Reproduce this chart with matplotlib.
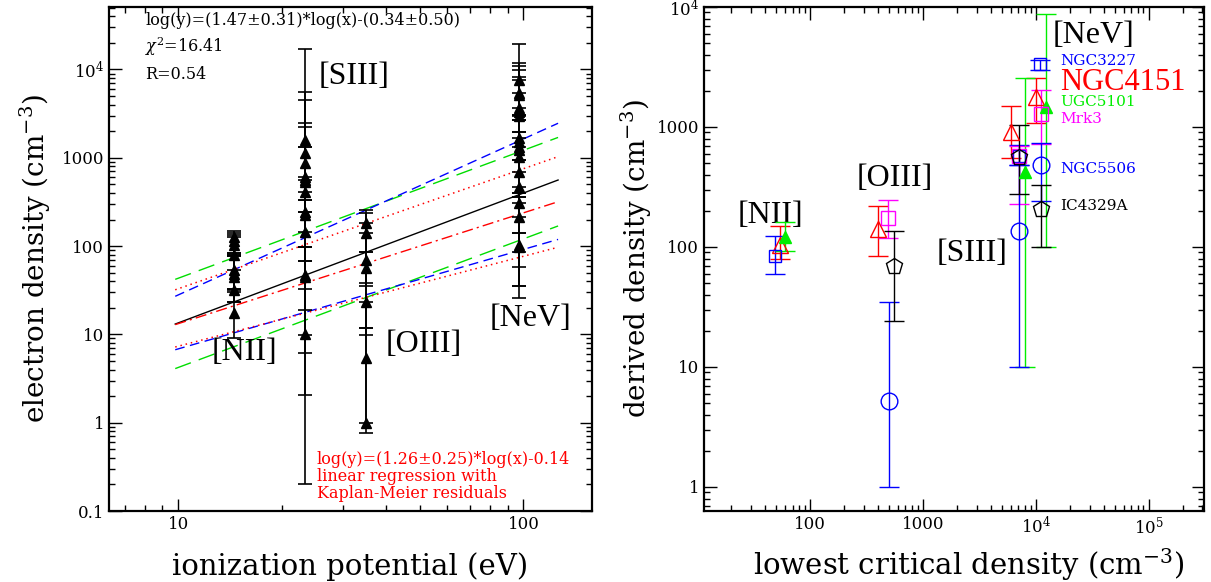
import matplotlib.pyplot as plt
import numpy as np
from matplotlib.ticker import FixedLocator, NullFormatter, FixedFormatter

plt.rcParams['font.family'] = 'DejaVu Serif'
plt.rcParams['mathtext.fontset'] = 'dejavuserif'

# ---- left panel: electron density vs ionization potential ----
ip_nii, ip_siii, ip_oiii, ip_nev = 14.5, 23.3, 35.1, 97.1

ne_nii = [126, 115, 103, 79, 54, 48, 45, 32, 17.3]
lo_nii = [84, 77, 80, 33, 30, 23.4, 33, 23.4, 9.0]
hi_nii = [148, 140, 134, 126, 84, 77, 79, 54, 32]

ne_siii = [1590, 1125, 870, 611, 560, 536, 413, 245, 225, 146, 47, 45, 10.1]
lo_siii = [333, 98, 333, 98, 67, 245, 33, 18.9, 67, 9.8, 6.1, 2.06, 0.2]
hi_siii = [16900, 5600, 4520, 2460, 2250, 1335, 1335, 611, 560, 413, 245, 146, 98]

ne_oiii = [181, 140, 70, 56, 23.5, 5.4, 0.98]
lo_oiii = [86, 38, 35, 11.7, 9.8, 0.98, 0.76]
hi_oiii = [256, 235, 181, 140, 86, 23.5, 11.7]

ne_nev = [7600, 5370, 5140, 3640, 3330, 2970, 1660, 1520, 1335, 1225, 1030,
          697, 471, 305, 215, 103, 98]
lo_nev = [3050, 2680, 1980, 944, 1335, 396, 363, 471, 140, 305, 215,
          86, 140, 58, 35, 25.6, 35]
hi_nev = [19400, 11900, 10960, 9860, 8280, 7600, 5370, 3640, 3050, 2970, 2680,
          1980, 1660, 944, 697, 396, 363]

# regression line and confidence bands (end values)
fit_x = [9.8, 126]
fit_black = [13.1, 560]
fit_km = [12.9, 318]
band_green_hi = [42, 1700]
band_green_lo = [4.1, 169]
band_blue_hi = [27, 2460]
band_blue_lo = [6.7, 119]
band_red_hi = [32, 1030]
band_red_lo = [7.2, 97]

# ---- right panel: derived density vs lowest critical density ----
galaxies = {
    'NGC4151': dict(x=[54, 400, 6040, 10050], y=[103, 142, 909, 1778],
                    lo=[80, 84, 552, 1086], hi=[149, 220, 1486, 2560]),
    'NGC3227': dict(x=[49.4, 7100, 10900], y=[84, 573, 3330],
                    lo=[60, 479, 3010], hi=[124, 713, 3640]),
    'UGC5101': dict(x=[60, 8050, 12330], y=[121, 422, 1468],
                    lo=[92, 10, 100], hi=[160, 2578, 8690]),
    'Mrk3': dict(x=[495, 7100, 11160], y=[175, 570, 1292],
                 lo=[119, 230, 726], hi=[245, 700, 2046]),
    'NGC5506': dict(x=[503, 7120, 11160], y=[5.2, 136, 485],
                    lo=[1.0, 10, 242], hi=[35, 480, 740]),
    'IC4329A': dict(x=[551, 7120, 11160], y=[70, 562, 208],
                    lo=[24, 278, 100], hi=[136, 1045, 330]),
}
styles = {
    'NGC4151': ('^', 'red', 'none', 11),
    'NGC3227': ('s', 'blue', 'none', 9),
    'UGC5101': ('^', '#00ee00', '#00ee00', 9),
    'Mrk3': ('s', 'magenta', 'none', 10),
    'NGC5506': ('o', 'blue', 'none', 12),
    'IC4329A': ('p', 'black', 'none', 12),
}


def style_axis(ax):
    ax.tick_params(which='both', direction='in', top=True, right=True,
                   labelsize=12)
    ax.tick_params(which='major', length=9, width=1)
    ax.tick_params(which='minor', length=4.5, width=1)
    for s in ax.spines.values():
        s.set_linewidth(1.6)


def sci(v):
    if v >= 1e4:
        return r'$10^{%d}$' % int(round(np.log10(v)))
    return ('%g' % v)


fig = plt.figure(figsize=(12.11, 5.82), dpi=100)
ax1 = fig.add_axes([109 / 1211, 71 / 582, 483 / 1211, 504 / 582])
ax2 = fig.add_axes([704 / 1211, 71 / 582, 500 / 1211, 504 / 582])

# left panel
ax1.plot(fit_x, band_green_hi, color='#00dd00', lw=1, dashes=(12, 6))
ax1.plot(fit_x, band_green_lo, color='#00dd00', lw=1, dashes=(12, 6))
ax1.plot(fit_x, band_blue_hi, color='blue', lw=1, dashes=(7, 4))
ax1.plot(fit_x, band_blue_lo, color='blue', lw=1, dashes=(7, 4))
ax1.plot(fit_x, band_red_hi, color='red', lw=1.1, dashes=(1, 2.5))
ax1.plot(fit_x, band_red_lo, color='red', lw=1.1, dashes=(1, 2.5))
ax1.plot(fit_x, fit_black, color='black', lw=1)
ax1.plot(fit_x, fit_km, color='red', lw=1, dashes=(8, 3, 1.5, 3))

for ip, val, lo, hi in [(ip_nii, ne_nii, lo_nii, hi_nii),
                        (ip_siii, ne_siii, lo_siii, hi_siii),
                        (ip_oiii, ne_oiii, lo_oiii, hi_oiii),
                        (ip_nev, ne_nev, lo_nev, hi_nev)]:
    val = np.array(val)
    err = [val - np.array(lo), np.array(hi) - val]
    ax1.errorbar([ip] * len(val), val, yerr=err, fmt='^', color='black',
                 ms=6.5, capsize=5, elinewidth=1.2, capthick=1.2, zorder=5)

ax1.set_xscale('log')
ax1.set_yscale('log')
ax1.set_xlim(6.3, 158)
ax1.set_ylim(0.1, 5.1e4)
ax1.xaxis.set_major_locator(FixedLocator([10, 100]))
ax1.xaxis.set_major_formatter(FixedFormatter(['10', '100']))
ax1.xaxis.set_minor_locator(FixedLocator([7, 8, 9, 20, 30, 40, 50, 60, 70, 80, 90]))
ax1.xaxis.set_minor_formatter(NullFormatter())
yt1 = [0.1, 1, 10, 100, 1000, 1e4]
ax1.yaxis.set_major_locator(FixedLocator(yt1))
ax1.yaxis.set_major_formatter(FixedFormatter([sci(v) for v in yt1]))
ax1.yaxis.set_minor_locator(FixedLocator(
    [m * 10.0 ** e for e in range(-1, 5) for m in range(2, 10)]))
ax1.yaxis.set_minor_formatter(NullFormatter())
style_axis(ax1)
ax1.set_xlabel('ionization potential (eV)', fontsize=21, va='baseline')
ax1.xaxis.set_label_coords(0.5, -0.127)
ax1.set_ylabel('electron density (cm$^{-3}$)', fontsize=20, labelpad=6)

lab_font = dict(family='Liberation Serif', fontsize=23)
ax1.text(12.5, 6.3, '[NII]', va='center', **lab_font)
ax1.text(25.5, 8220, '[SIII]', va='center', **lab_font)
ax1.text(39.8, 7.6, '[OIII]', va='center', **lab_font)
ax1.text(80, 15.3, '[NeV]', va='center', **lab_font)

ax1.text(0.075, 0.974, 'log(y)=(1.47±0.31)*log(x)-(0.34±0.50)',
         transform=ax1.transAxes, fontsize=11.5, va='center')
ax1.text(0.075, 0.921, r'$\chi^2$=16.41', transform=ax1.transAxes,
         fontsize=11.5, va='center')
ax1.text(0.075, 0.867, 'R=0.54', transform=ax1.transAxes,
         fontsize=11.5, va='center')
for i, line in enumerate(['log(y)=(1.26±0.25)*log(x)-0.14',
                          'linear regression with',
                          'Kaplan-Meier residuals']):
    ax1.text(0.43, 0.103 - i * 0.034, line, transform=ax1.transAxes,
             fontsize=11.5, color='red', va='center')

# right panel
for name, d in galaxies.items():
    mk, col, fc, ms = styles[name]
    y = np.array(d['y'])
    err = [y - np.array(d['lo']), np.array(d['hi']) - y]
    ax2.errorbar(d['x'], y, yerr=err, fmt=mk, color=col, mfc=fc, mec=col,
                 ms=ms, mew=1, capsize=7, elinewidth=1, capthick=1, zorder=4)

ax2.set_xscale('log')
ax2.set_yscale('log')
ax2.set_xlim(11.5, 3.1e5)
ax2.set_ylim(0.63, 1e4)
xt2 = [100, 1000, 1e4, 1e5]
ax2.xaxis.set_major_locator(FixedLocator(xt2))
ax2.xaxis.set_major_formatter(FixedFormatter([sci(v) for v in xt2]))
ax2.xaxis.set_minor_locator(FixedLocator(
    [m * 10.0 ** e for e in range(1, 6) for m in range(2, 10)]))
ax2.xaxis.set_minor_formatter(NullFormatter())
yt2 = [1, 10, 100, 1000, 1e4]
ax2.yaxis.set_major_locator(FixedLocator(yt2))
ax2.yaxis.set_major_formatter(FixedFormatter([sci(v) for v in yt2]))
ax2.yaxis.set_minor_locator(FixedLocator(
    [m * 10.0 ** e for e in range(-1, 4) for m in range(2, 10)]))
ax2.yaxis.set_minor_formatter(NullFormatter())
style_axis(ax2)
ax2.set_xlabel('lowest critical density (cm$^{-3}$)', fontsize=21, va='baseline')
ax2.xaxis.set_label_coords(0.53, -0.127)
ax2.set_ylabel('derived density (cm$^{-3}$)', fontsize=20, labelpad=2)

ax2.text(23, 184, '[NII]', va='center', **lab_font)
ax2.text(261, 370, '[OIII]', va='center', **lab_font)
ax2.text(1315, 88, '[SIII]', va='center', **lab_font)
ax2.text(14000, 5800, '[NeV]', va='center', **lab_font)

gal_labels = [('NGC3227', 3520, 'blue', 11),
              ('NGC4151', 2370, 'red', 22),
              ('UGC5101', 1600, '#00ee00', 11),
              ('Mrk3', 1170, 'magenta', 11),
              ('NGC5506', 444, 'blue', 11),
              ('IC4329A', 220, 'black', 11)]
for name, yv, col, fs in gal_labels:
    fam = 'Liberation Serif' if fs > 15 else 'DejaVu Serif'
    ax2.text(16400, yv, name, color=col, fontsize=fs, va='center', family=fam)

fig.savefig('out.png', dpi=100)
